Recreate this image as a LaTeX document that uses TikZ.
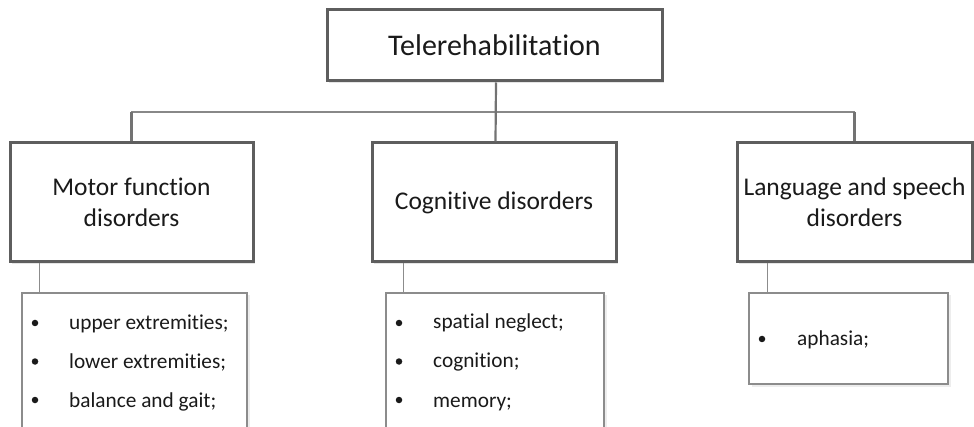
\documentclass[tikz,border=0pt]{standalone}
\usepackage{fontspec}
\setmainfont{Carlito}[Ligatures={NoCommon}]
\usetikzlibrary{shadows}
\definecolor{boxgray}{HTML}{5E5E5E}
\definecolor{conngray}{HTML}{737373}
\definecolor{subgray}{HTML}{8C8C8C}
\definecolor{textc}{HTML}{1A1A1A}
\begin{document}
\begin{tikzpicture}[x=1pt,y=-1pt,
  mainbox/.style={draw=boxgray, line width=3pt, fill=white, align=center, text=textc, inner sep=2pt,
    drop shadow={shadow xshift=2pt, shadow yshift=-2pt, fill=black!10, opacity=1}},
  catfont/.style={font=\fontsize{25.5}{31}\selectfont},
  subbox/.style={draw=subgray, line width=1.2pt, fill=white,
    drop shadow={shadow xshift=2.5pt, shadow yshift=-2.5pt, fill=black!7, opacity=1}},
  conn/.style={draw=conngray, line width=2.2pt},
  bus/.style={draw=conngray!85, line width=1.6pt},
  subconn/.style={draw=subgray, line width=1pt},
  item/.style={font=\fontsize{21.3}{26}\selectfont, text=textc, anchor=base west, inner sep=0pt},
  bul/.style={circle, fill=textc, inner sep=0pt, minimum size=6.5pt}
]
\useasboundingbox (0,0) rectangle (974,427);
\clip (0,0) rectangle (974,427);

% sub boxes
\node[subbox, minimum width=225pt, minimum height=152pt] (subm) at (134.5,369) {};
\node[subbox, minimum width=218pt, minimum height=152pt] (subc) at (495,369) {};
\node[subbox, minimum width=199pt, minimum height=91pt] (subl) at (848.5,338.5) {};

% main boxes
\node[mainbox, minimum width=335pt, minimum height=71pt, font=\fontsize{30}{36}\selectfont] (top) at (494.5,45.5) {Telerehabilitation};
\node[mainbox, catfont, minimum width=243pt, minimum height=119pt] (mot) at (131.5,202.5) {Motor function\\disorders};
\node[mainbox, catfont, minimum width=244pt, minimum height=119pt] (cog) at (494,202.5) {Cognitive disorders};
\node[mainbox, catfont, minimum width=235pt, minimum height=119pt] (lang) at (854.5,202.5) {Language and speech\\disorders};

% connectors
\coordinate (busc) at (495,112);
\draw[bus] (mot.north) |- (busc) -| (lang.north);
\draw[conn] ([xshift=1.5pt]top.south) -- ([xshift=1.5pt]cog.north);
\draw[conn] (mot.north) -- (mot.north |- busc);
\draw[conn] (lang.north) -- (lang.north |- busc);

\coordinate (cm) at ([xshift=18pt]subm.north west);
\coordinate (cc) at ([xshift=18pt]subc.north west);
\coordinate (cl) at ([xshift=19pt]subl.north west);
\draw[subconn] (cm) -- (cm |- mot.south);
\draw[subconn] (cc) -- (cc |- cog.south);
\draw[subconn] (cl) -- (cl |- lang.south);

% items
\node[bul] (bm1) at (35,323) {};
\node[bul] (bm2) at (35,361.5) {};
\node[bul] (bm3) at (35,400) {};
\node[item] (m1) at (69,330) {upper extremities;};
\node[item] (m2) at (69,368) {lower extremities;};
\node[item] (m3) at (69,407) {balance and gait;};

\node[bul] (bc1) at (399,323) {};
\node[bul] (bc2) at (399,361.5) {};
\node[bul] (bc3) at (399,400) {};
\node[item] (c1) at (433,329) {spatial neglect;};
\node[item] (c2) at (433,367) {cognition;};
\node[item] (c3) at (433,407) {memory;};

\node[bul] (bl1) at (762,339) {};
\node[item] (l1) at (797,345) {aphasia;};
\end{tikzpicture}
\end{document}
